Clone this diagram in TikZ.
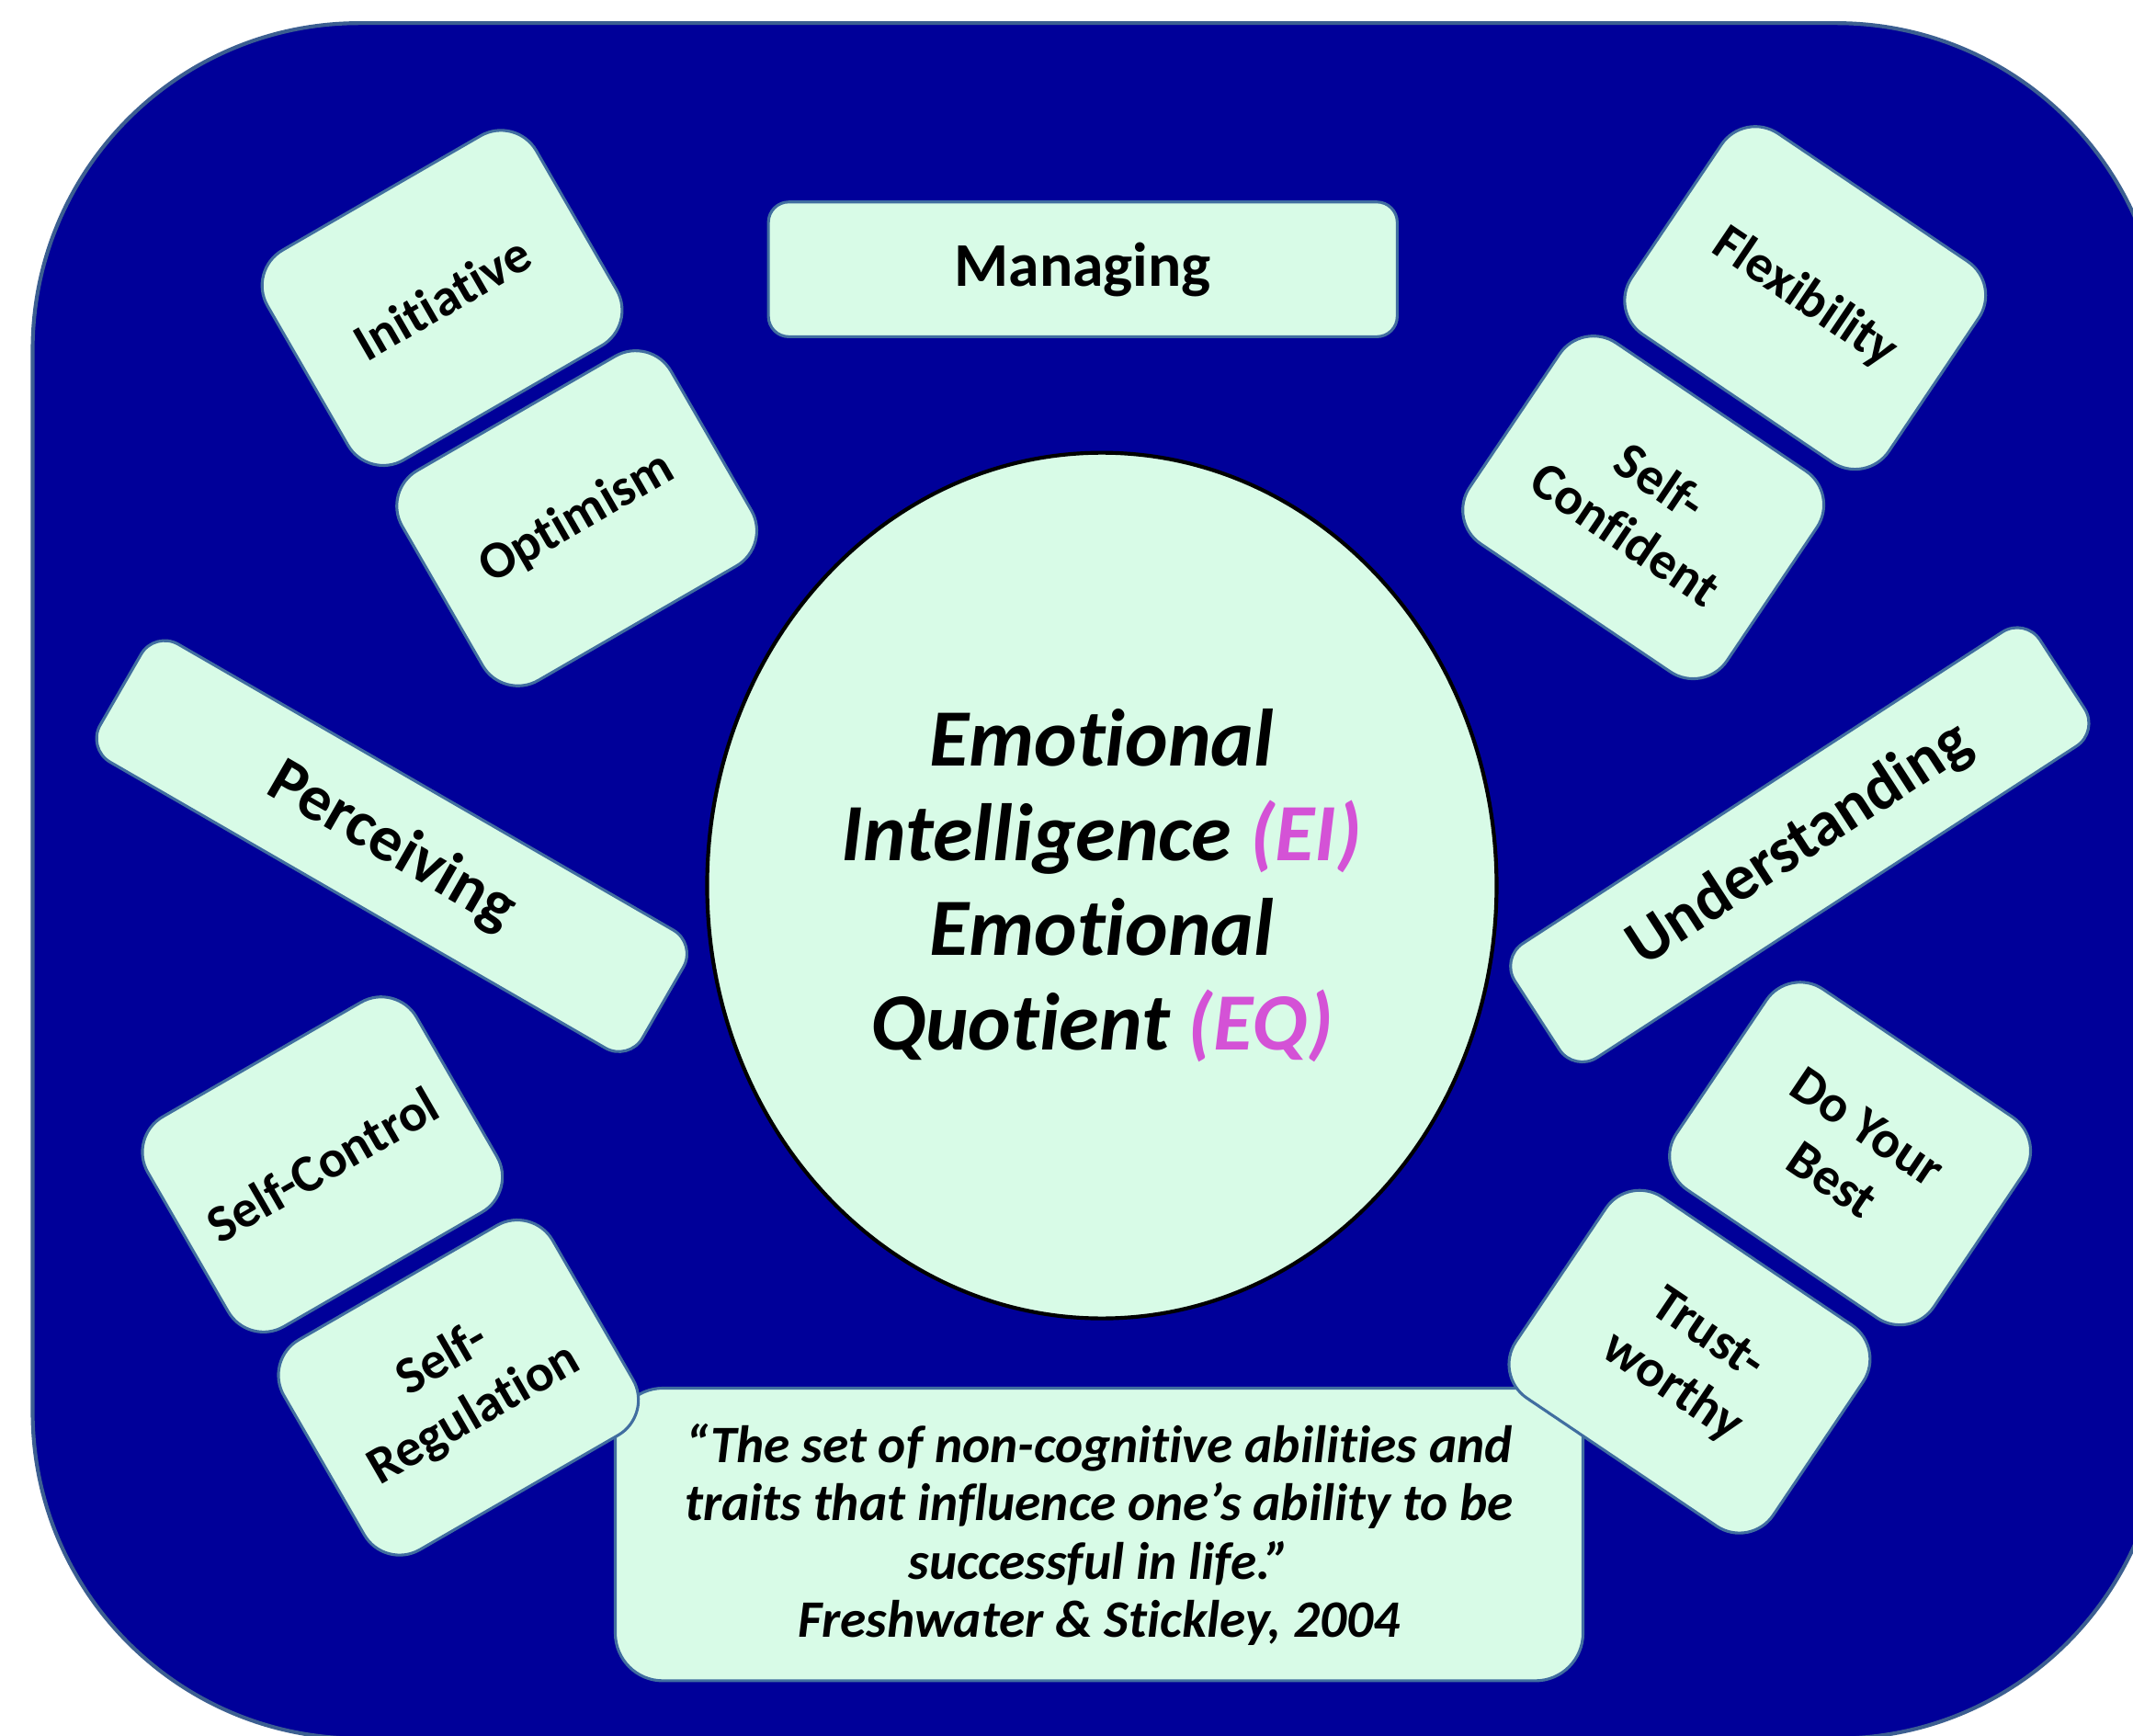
\documentclass[tikz,border=0pt]{standalone}
\usepackage{fontspec}
\setmainfont{Carlito}[Ligatures=NoCommon]
\usetikzlibrary{shapes.geometric}

\definecolor{bgblue}{RGB}{0,0,153}
\definecolor{frameblue}{RGB}{60,95,145}
\definecolor{mint}{RGB}{216,251,231}
\definecolor{edgeblue}{RGB}{65,110,160}
\definecolor{tagpink}{RGB}{212,82,214}

\tikzset{
	card/.style={draw=edgeblue, line width=0.6pt, fill=mint, rounded corners=0.3cm,
		minimum width=2.28cm, minimum height=1.78cm, inner sep=0pt, align=center,
		font=\bfseries\fontsize{11}{13.2}\selectfont},
	bar/.style={card, minimum width=4.6cm, minimum height=1cm, rounded corners=0.2cm,
		font=\bfseries\fontsize{13.5}{16}\selectfont},
	core/.style={ellipse, draw=black, line width=0.8pt, fill=mint, minimum width=5.8cm,
		minimum height=6.36cm, inner sep=0pt, align=center,
		font=\bfseries\itshape\fontsize{17}{19.8}\selectfont},
	quote/.style={draw=edgeblue, line width=0.6pt, fill=mint, rounded corners=0.35cm,
		minimum width=7.11cm, minimum height=2.15cm, inner sep=0pt, align=center,
		font=\bfseries\itshape\fontsize{11}{12.2}\selectfont}
}

\begin{document}
\begin{tikzpicture}[x=0.01cm, y=-0.01cm]
	\useasboundingbox (0,0) rectangle (1568,1276);
	\clip (0,0) rectangle (1568,1276);

	% background panel
	\draw[draw=frameblue, line width=0.8pt, fill=bgblue, rounded corners=2.4cm] (24,17) rectangle (1590,1278);

	\node[core] (ei) at (810,651) {Emotional\\
		Intelligence \textcolor{tagpink}{(EI)}\\
		Emotional\\
		Quotient \textcolor{tagpink}{(EQ)}};

	\node[bar, minimum width=4.62cm, minimum height=0.99cm, rounded corners=0.15cm,
		font=\bfseries\fontsize{13}{15.6}\selectfont] (managing) at (796,198) {Managing};

	\node[quote] (quotebox) at (808,1128) {“The set of non-cognitive abilities and\\
		traits that influence one’s ability to be\\
		successful in life.”\\
		Freshwater \& Stickley, 2004};

	% left side
	\node[card, rotate=30] (initiative) at (325,219) {Initiative};
	\node[card, rotate=30] (optimism) at (424,381) {Optimism};
	\node[bar, rotate=-30] (perceiving) at (288,622) {Perceiving};
	\node[card, rotate=30] (selfcontrol) at (237,856) {Self-Control};
	\node[card, rotate=30] (selfregulation) at (337,1020) {Self-\\Regulation};

	% right side
	\node[card, rotate=-34] (flexibility) at (1327,219) {Flexibility};
	\node[card, rotate=-34] (selfconfident) at (1208,373) {Self-\\Confident};
	\node[bar, rotate=33] (understanding) at (1323,621) {Understanding};
	\node[card, rotate=-34] (doyourbest) at (1360,848) {Do Your\\Best};
	\node[card, rotate=-34] (trustworthy) at (1242,1001) {Trust-\\worthy};

\end{tikzpicture}
\end{document}
